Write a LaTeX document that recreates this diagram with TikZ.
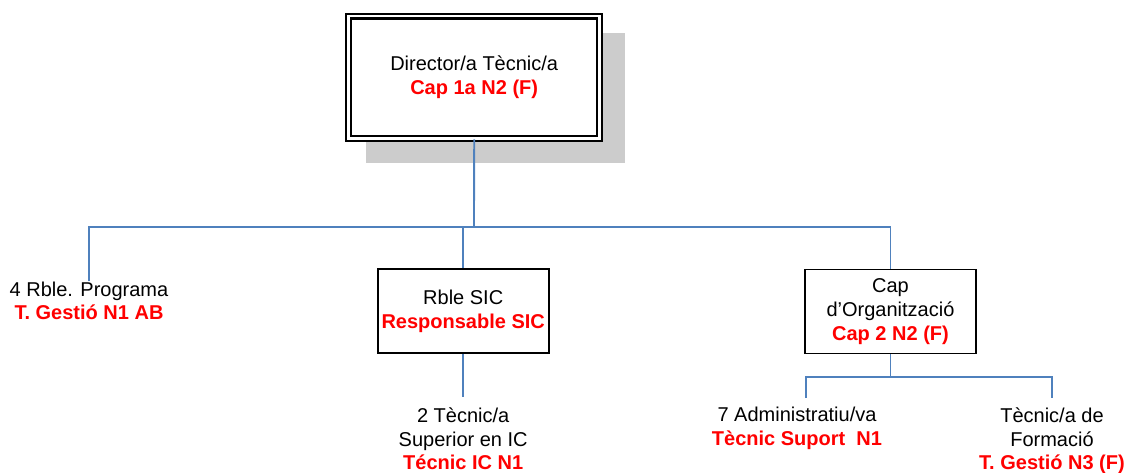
\documentclass[tikz,border=0pt]{standalone}
\usepackage{fontspec}
\setmainfont{Liberation Sans}
\definecolor{linkblue}{RGB}{79,129,189}
\definecolor{shadowgray}{RGB}{204,204,204}
\definecolor{redtxt}{RGB}{255,0,0}
\newcommand\redb[1]{\textcolor{redtxt}{\bfseries #1}}
\begin{document}
\begin{tikzpicture}[x=0.75pt,y=-0.75pt,
  lbl/.style={align=center,inner sep=0pt,font=\fontsize{15pt}{17.7pt}\selectfont},
  box/.style={lbl,draw=black,line width=1.4pt,fill=white,minimum width=128.25pt,minimum height=63pt},
  link/.style={draw=linkblue,line width=1.4pt},
]
\useasboundingbox (0,0) rectangle (1128,472);
% shadow of the top box
\fill[shadowgray] (366,33) rectangle (625,163);
% boxes and labels
\node[lbl,draw=black,line width=1.6pt,double=white,double distance=2pt,fill=white,
      minimum width=188.25pt,minimum height=91.7pt] (dir) at (474.2,77.2)
      {Director/a Tècnic/a\\\redb{Cap 1a N2 (F)}};
\node[lbl] (prog) at (89,300.8) {4 Rble. Programa\\\redb{T. Gestió N1 AB}};
\node[box] (sic) at (463.2,311.4) {Rble SIC\\\redb{Responsable SIC}};
\node[lbl] (tec2) at (463.2,438.8) {2 Tècnic/a\\Superior en IC\\\redb{Técnic IC N1}};
\node[box] (org) at (890.5,311.5) {Cap\\d’Organització\\\redb{Cap 2 N2 (F)}};
\node[lbl] (adm) at (797,428.3) {7 Administratiu/va\\\redb{Tècnic Suport\ \ N1}};
\node[lbl] (form) at (1052,440.8) {Tècnic/a de\\Formació\\\redb{T. Gestió N3 (F)}};
% connector points
\coordinate (bus) at (474,227.3);
\coordinate (tec2top) at ([yshift=8pt]tec2.north);
\coordinate (orgbus) at (890.5,377);
\coordinate (admtop) at (806,398);
\coordinate (formtop) at ([yshift=7pt]form.north);
% connectors
\draw[link] (dir.south) -- (bus);
\draw[link] (prog.north) |- (bus) -| (org.north);
\draw[link] (bus) -| (sic.north);
\draw[link] (sic.south) -- (sic.south |- tec2top);
\draw[link] (org.south) -- (orgbus);
\draw[link] (admtop) |- (orgbus) -| (formtop);
\end{tikzpicture}
\end{document}
